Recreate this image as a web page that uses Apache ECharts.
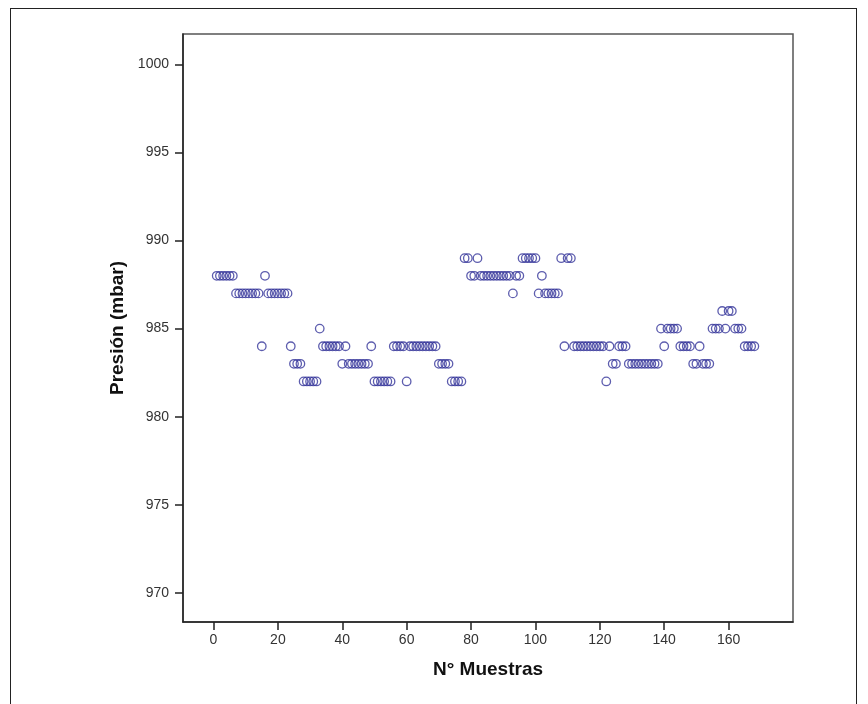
<!DOCTYPE html>
<html>
<head>
<meta charset="utf-8">
<script src="https://cdn.jsdelivr.net/npm/echarts@6/dist/echarts.min.js"></script>
<style>
  html, body { margin: 0; padding: 0; background: #ffffff; }
  #frame { position: absolute; left: 10px; top: 8px; width: 847px; height: 720px; border: 1px solid #222; box-sizing: border-box; }
  #chart { position: absolute; left: 0; top: 0; width: 868px; height: 704px; }
</style>
</head>
<body>
<div id="frame"></div>
<div id="chart"></div>
<script>
// Pressure (mbar) for samples 1..168
const presion = [
  988,988,988,988,988,988,987,987,987,987,
  987,987,987,987,984,988,987,987,987,987,
  987,987,987,984,983,983,983,982,982,982,
  982,982,985,984,984,984,984,984,984,983,
  984,983,983,983,983,983,983,983,984,982,
  982,982,982,982,982,984,984,984,984,982,
  984,984,984,984,984,984,984,984,984,983,
  983,983,983,982,982,982,982,989,989,988,
  988,989,988,988,988,988,988,988,988,988,
  988,988,987,988,988,989,989,989,989,989,
  987,988,987,987,987,987,987,989,984,989,
  989,984,984,984,984,984,984,984,984,984,
  984,982,984,983,983,984,984,984,983,983,
  983,983,983,983,983,983,983,983,985,984,
  985,985,985,985,984,984,984,984,983,983,
  984,983,983,983,985,985,985,986,985,986,
  986,985,985,985,984,984,984,984
];
const xTicks = [0, 20, 40, 60, 80, 100, 120, 140, 160];
const yTicks = [970, 975, 980, 985, 990, 995, 1000];
const xTitle = 'N° Muestras';
const yTitle = 'Presión (mbar)';

const points = presion.map((v, i) => [i + 1, v]);

const chart = echarts.init(document.getElementById('chart'), null, { renderer: 'canvas' });
const font = '"Liberation Sans", Arial, sans-serif';
chart.setOption({
  animation: false,
  backgroundColor: 'transparent',
  grid: {
    left: 183, right: 75, top: 34, bottom: 82,
    show: true, borderColor: '#555', borderWidth: 1.5, backgroundColor: 'transparent'
  },
  xAxis: {
    type: 'value', min: -9.47, max: 180,
    name: xTitle, nameLocation: 'middle', nameGap: 38,
    nameTextStyle: { fontFamily: font, fontWeight: 'bold', fontSize: 19, color: '#111' },
    splitLine: { show: false },
    axisLine: { show: true, onZero: false, lineStyle: { color: '#222', width: 1.5 } },
    axisTick: { show: true, length: 8, customValues: xTicks, lineStyle: { color: '#222', width: 1.5 } },
    axisLabel: { customValues: xTicks, margin: 11, fontFamily: font, fontSize: 14, color: '#333',
                 formatter: v => String(v) }
  },
  yAxis: {
    type: 'value', min: 968.34, max: 1001.73,
    name: yTitle, nameLocation: 'middle', nameGap: 44,
    nameTextStyle: { fontFamily: font, fontWeight: 'bold', fontSize: 19, color: '#111' },
    splitLine: { show: false },
    axisLine: { show: true, onZero: false, lineStyle: { color: '#222', width: 1.5 } },
    axisTick: { show: true, length: 8, customValues: yTicks, lineStyle: { color: '#222', width: 1.5 } },
    axisLabel: { customValues: yTicks, margin: 14, fontFamily: font, fontSize: 14, color: '#333',
                 formatter: v => String(v) }
  },
  series: [{
    type: 'scatter',
    data: points,
    symbol: 'circle',
    symbolSize: 8.5,
    itemStyle: { color: 'rgba(255,255,255,0)', borderColor: '#35359a', borderWidth: 1.3 },
    emphasis: { disabled: true }
  }]
});
</script>
</body>
</html>
